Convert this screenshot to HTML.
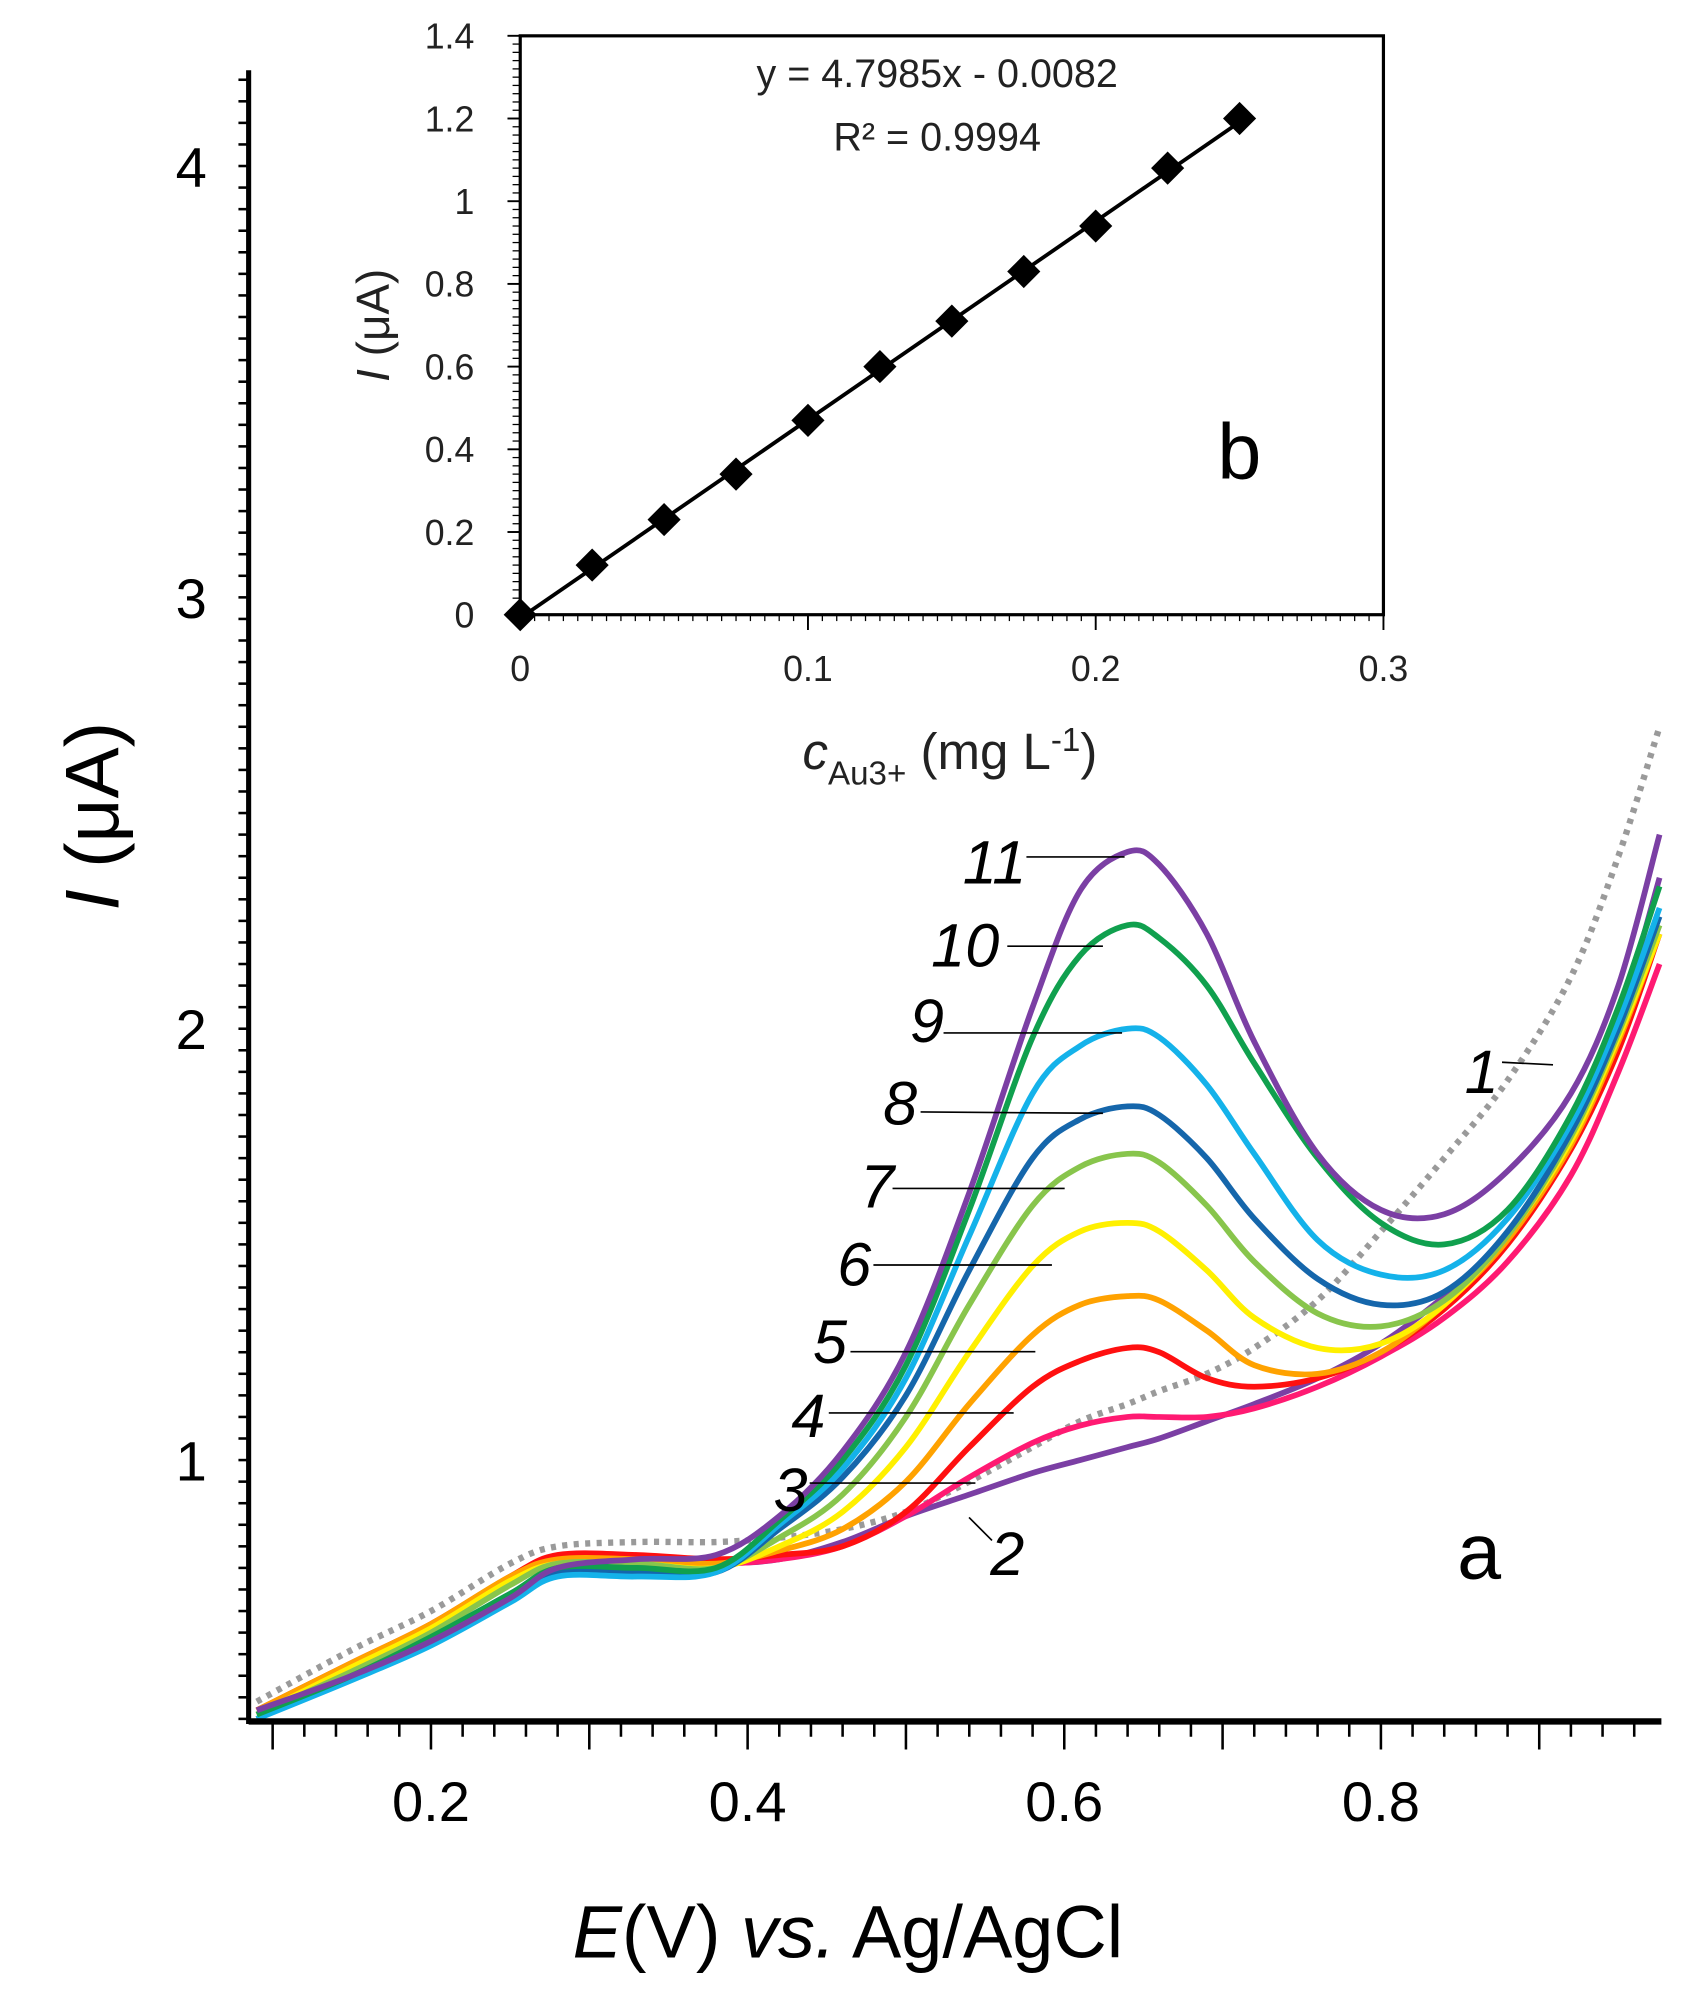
<!DOCTYPE html>
<html><head><meta charset="utf-8"><style>
html,body{margin:0;padding:0;background:#fff;}
svg{display:block;}
text{font-family:"Liberation Sans",sans-serif;}
</style></head><body>
<svg id="chart" width="1692" height="1997" viewBox="0 0 1327 1566" xmlns="http://www.w3.org/2000/svg">
<g id="main"></g>
<g id="inset"></g>
</svg>
<script>
const NS="http://www.w3.org/2000/svg";
// ---- main chart data ----
const potentials=[0.09,0.15,0.2,0.25,0.28,0.33,0.38,0.42,0.46,0.5,0.54,0.58,0.61,0.64,0.66,0.69,0.72,0.76,0.8,0.84,0.88,0.92,0.95,0.976];
const curve1=[0.44,0.56,0.65,0.76,0.80,0.81,0.81,0.82,0.84,0.88,0.95,1.03,1.09,1.13,1.16,1.20,1.26,1.37,1.53,1.70,1.88,2.12,2.40,2.70];
const curve2=[0.42,0.51,0.59,0.69,0.75,0.76,0.76,0.77,0.81,0.87,0.92,0.97,1.00,1.03,1.05,1.09,1.13,1.19,1.27,1.38,1.52,1.75,2.02,2.35];
const curve3=[0.42,0.52,0.61,0.72,0.77,0.77,0.76,0.77,0.80,0.87,0.96,1.04,1.08,1.10,1.10,1.10,1.12,1.17,1.24,1.33,1.46,1.66,1.90,2.15];
const curve4=[0.42,0.53,0.62,0.73,0.78,0.78,0.77,0.78,0.80,0.88,1.03,1.17,1.23,1.26,1.25,1.19,1.17,1.19,1.25,1.35,1.50,1.72,1.95,2.22];
const curve5=[0.42,0.53,0.62,0.73,0.77,0.77,0.76,0.79,0.84,0.95,1.13,1.29,1.36,1.38,1.37,1.30,1.22,1.20,1.25,1.36,1.51,1.73,1.97,2.22];
const curve6=[0.41,0.52,0.61,0.72,0.76,0.76,0.75,0.80,0.88,1.03,1.25,1.45,1.53,1.55,1.53,1.44,1.33,1.26,1.27,1.36,1.52,1.74,1.98,2.22];
const curve7=[0.41,0.51,0.60,0.71,0.76,0.76,0.75,0.82,0.92,1.10,1.36,1.59,1.68,1.71,1.69,1.59,1.46,1.34,1.31,1.37,1.52,1.75,1.99,2.24];
const curve8=[0.40,0.50,0.58,0.68,0.74,0.74,0.74,0.84,0.96,1.15,1.44,1.70,1.79,1.82,1.80,1.70,1.56,1.42,1.36,1.39,1.53,1.76,2.00,2.26];
const curve9=[0.40,0.49,0.57,0.67,0.73,0.73,0.74,0.85,0.98,1.19,1.52,1.85,1.96,2.00,1.98,1.87,1.71,1.51,1.43,1.44,1.56,1.78,2.02,2.28];
const curve10=[0.41,0.50,0.59,0.69,0.75,0.75,0.75,0.86,1.00,1.22,1.58,1.98,2.17,2.24,2.21,2.10,1.92,1.70,1.55,1.50,1.58,1.80,2.05,2.33];
const curve11=[0.42,0.50,0.58,0.68,0.75,0.77,0.78,0.87,1.02,1.25,1.62,2.05,2.32,2.41,2.38,2.22,1.97,1.71,1.58,1.57,1.67,1.85,2.10,2.45];
const xTicks=[0.2,0.4,0.6,0.8];
const yTicks=[1,2,3,4];
// ---- inset data ----
const concentrations=[0,0.025,0.05,0.075,0.1,0.125,0.15,0.175,0.2,0.225,0.25];
const currents=[0,0.12,0.23,0.34,0.47,0.60,0.71,0.83,0.94,1.08,1.20];
const insetXTicks=[0,0.1,0.2,0.3];
const insetYTicks=[0,0.2,0.4,0.6,0.8,1,1.2,1.4];
const slope=4.7985, intercept=-0.0082;

function el(tag,attrs,parent,txt){const e=document.createElementNS(NS,tag);for(const k in attrs)e.setAttribute(k,attrs[k]);if(txt!==undefined)e.textContent=txt;parent.appendChild(e);return e;}

const xS=E=>338+(E-0.2)*1241.7;
const yS=I=>1145-(I-1)*338.3;
const main=document.getElementById('main');
function pathFrom(xs,ys){
  const p=xs.map((x,i)=>[xS(x),yS(ys[i])]);
  let d=`M${p[0][0]},${p[0][1]}`;
  for(let i=0;i<p.length-1;i++){
    const p0=p[Math.max(0,i-1)],p1=p[i],p2=p[i+1],p3=p[Math.min(p.length-1,i+2)];
    const c1=[p1[0]+(p2[0]-p0[0])/6,p1[1]+(p2[1]-p0[1])/6];
    const c2=[p2[0]-(p3[0]-p1[0])/6,p2[1]-(p3[1]-p1[1])/6];
    d+=`C${c1[0]},${c1[1]} ${c2[0]},${c2[1]} ${p2[0]},${p2[1]}`;
  }
  return d;
}
const series=[
 [curve2,'#7b3fa4','curve-2'],[curve3,'#ff1a72','curve-3'],[curve4,'#ff1010','curve-4'],
 [curve5,'#ffa200','curve-5'],[curve6,'#fff000','curve-6'],[curve7,'#88c54c','curve-7'],
 [curve8,'#1566ab','curve-8'],[curve9,'#14b2ea','curve-9'],[curve10,'#10a04e','curve-10'],
 [curve11,'#7b3fa4','curve-11']];
const defs=el('defs',{},main);
const cp=el('clipPath',{id:'clipMain'},defs);
el('rect',{x:196,y:40,width:1110,height:1309},cp);
const cg=el('g',{'clip-path':'url(#clipMain)'},main);
const dp=el('path',{d:pathFrom(potentials,curve1),fill:'none',stroke:'#9a9a9a','stroke-width':5,'stroke-dasharray':'4 5'},cg);


series.forEach(s=>{
  const p=el('path',{d:pathFrom(potentials,s[0]),fill:'none',stroke:s[1],'stroke-width':4.5},cg);
  
  
});
const ax=el('line',{x1:195,y1:1350,x2:1303,y2:1350,stroke:'#000','stroke-width':5},main);


const ay=el('line',{x1:195,y1:55,x2:195,y2:1352,stroke:'#000','stroke-width':4},main);


for(let k=5;k<=48;k++){const E=k*0.02;const x=xS(E);if(x<198||x>1303)continue;
  const major=(k%5===0);el('line',{x1:x,y1:1350,x2:x,y2:major?1372:1362,stroke:'#000','stroke-width':2},main);}
for(let k=8;k<=84;k++){const I=k*0.05;const y=yS(I);if(y>1348||y<58)continue;
  el('line',{x1:187,y1:y,x2:195,y2:y,stroke:'#000','stroke-width':2},main);}
xTicks.forEach(v=>{const t=el('text',{x:xS(v),y:1428,'font-size':44,'text-anchor':'middle'},main,v.toString());
  
  });
yTicks.forEach(v=>{const t=el('text',{x:150,y:yS(v)+16,'font-size':44,'text-anchor':'middle'},main,v.toString());
  
  });
</script>
<script>
(function(){
const main=document.getElementById('main');
main.insertAdjacentHTML('beforeend',`
<text transform="translate(93,640) rotate(-90)" font-size="60" text-anchor="middle"><tspan font-style="italic">I</tspan> (μA)</text>
<text x="665" y="1535" font-size="58" text-anchor="middle"><tspan font-style="italic">E</tspan>(V) <tspan font-style="italic">vs.</tspan> Ag/AgCl</text>
<text x="1160" y="1238" font-size="62" text-anchor="middle">a</text>
<g font-size="48" font-style="italic" stroke="#000">
<text x="780" y="693" text-anchor="middle" stroke="none">11</text><line x1="805" y1="672" x2="882" y2="672" stroke-width="1.3"/>
<text x="757" y="758" text-anchor="middle" stroke="none">10</text><line x1="790" y1="742" x2="865" y2="742" stroke-width="1.3"/>
<text x="727" y="817" text-anchor="middle" stroke="none">9</text><line x1="740" y1="810" x2="880" y2="810" stroke-width="1.3"/>
<text x="706" y="882" text-anchor="middle" stroke="none">8</text><line x1="722" y1="872" x2="865" y2="873" stroke-width="1.3"/>
<text x="688" y="947" text-anchor="middle" stroke="none">7</text><line x1="700" y1="932" x2="835" y2="932" stroke-width="1.3"/>
<text x="670" y="1008" text-anchor="middle" stroke="none">6</text><line x1="685" y1="992" x2="825" y2="992" stroke-width="1.3"/>
<text x="651" y="1069" text-anchor="middle" stroke="none">5</text><line x1="667" y1="1060" x2="812" y2="1060" stroke-width="1.3"/>
<text x="634" y="1127" text-anchor="middle" stroke="none">4</text><line x1="650" y1="1108" x2="795" y2="1108" stroke-width="1.3"/>
<text x="620" y="1185" text-anchor="middle" stroke="none">3</text><line x1="635" y1="1163" x2="765" y2="1163" stroke-width="1.3"/>
<text x="790" y="1235" text-anchor="middle" stroke="none">2</text><line x1="760" y1="1190" x2="778" y2="1208" stroke-width="1.3"/>
<text x="1162" y="857" text-anchor="middle" stroke="none">1</text><line x1="1178" y1="833" x2="1218" y2="835" stroke-width="1.3"/>
</g>`);
})();
</script>
<script>
const inset=document.getElementById('inset');
const ixS=c=>408+c*2256.7;
const iyS=i=>482-i*324.3;
el('rect',{x:408,y:28,width:677,height:454,fill:'#fff',stroke:'#000','stroke-width':2.5},inset);
for(let k=0;k<=14*5;k++){const y=iyS(k*0.02);el('line',{x1:402,y1:y,x2:408,y2:y,stroke:'#000','stroke-width':1},inset);}
insetYTicks.forEach(v=>{el('line',{x1:398,y1:iyS(v),x2:408,y2:iyS(v),stroke:'#000','stroke-width':1.5},inset);
  const t=el('text',{x:372,y:iyS(v)+10,'font-size':28,'text-anchor':'end',fill:'#222'},inset,v.toString());
  
  });
for(let k=0;k<=60;k++){const x=ixS(k*0.005);el('line',{x1:x,y1:482,x2:x,y2:487,stroke:'#000','stroke-width':1},inset);}
insetXTicks.forEach(v=>{el('line',{x1:ixS(v),y1:482,x2:ixS(v),y2:494,stroke:'#000','stroke-width':1.5},inset);
  const t=el('text',{x:ixS(v),y:534,'font-size':28,'text-anchor':'middle',fill:'#222'},inset,v.toString());
  
  });
const tl=el('line',{x1:ixS(0),y1:iyS(intercept),x2:ixS(0.25),y2:iyS(slope*0.25+intercept),stroke:'#000','stroke-width':3},inset);


concentrations.forEach((c,i)=>{const x=ixS(c),y=iyS(currents[i]);
  const d=el('polygon',{points:`${x},${y-13} ${x+13},${y} ${x},${y+13} ${x-13},${y}`,fill:'#000'},inset);
  
  });
inset.insertAdjacentHTML('beforeend',`
<text x="735" y="68" font-size="31" text-anchor="middle" fill="#222">y = 4.7985x - 0.0082</text>
<text x="735" y="118" font-size="31" text-anchor="middle" fill="#222">R² = 0.9994</text>
<text x="972" y="375" font-size="62" text-anchor="middle">b</text>
<text transform="translate(305,255) rotate(-90)" font-size="36" text-anchor="middle" fill="#222"><tspan font-style="italic">I</tspan> (μA)</text>
<text x="745" y="603" font-size="40" text-anchor="middle" fill="#222"><tspan font-style="italic">c</tspan><tspan font-size="26" dy="12">Au3+</tspan><tspan dy="-12"> (mg L</tspan><tspan font-size="26" dy="-14">-1</tspan><tspan dy="14">)</tspan></text>`);
</script>
</body></html>
